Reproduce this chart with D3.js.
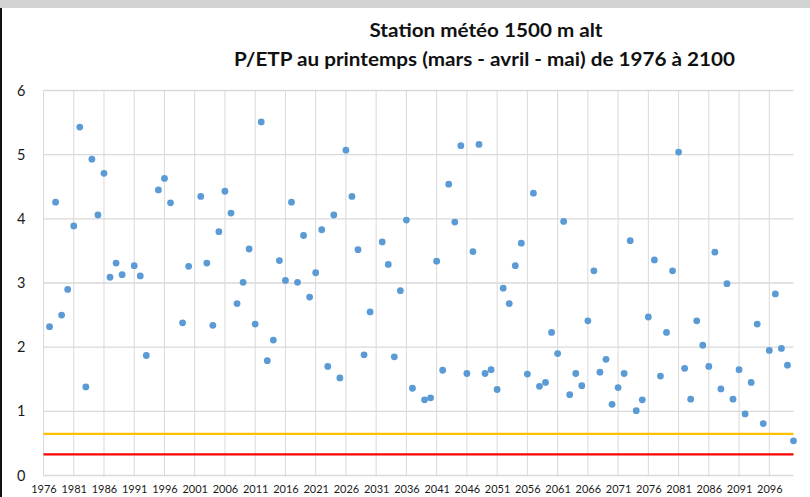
<!DOCTYPE html>
<html><head><meta charset="utf-8">
<script src="https://cdn.jsdelivr.net/npm/d3@7"></script>
<style>
html,body{margin:0;padding:0;background:#fff;}
svg{display:block;}
</style>
</head><body>
<svg id="c" width="810" height="497"></svg>
<script>
// ---- data ----
const titleLines = ["Station météo 1500 m alt", "P/ETP au printemps (mars - avril - mai) de 1976 à 2100"];
const years = d3.range(1976, 2101);
const values = [
  null, 2.32, 4.26, 2.50, 2.90, 3.89, 5.43, 1.38, 4.93, 4.06,
  4.71, 3.09, 3.31, 3.13, null, 3.27, 3.11, 1.87, null, 4.45,
  4.63, 4.25, null, 2.38, 3.26, null, 4.35, 3.31, 2.34, 3.80,
  4.43, 4.09, 2.68, 3.01, 3.53, 2.36, 5.51, 1.79, 2.11, 3.35,
  3.04, 4.26, 3.01, 3.74, 2.78, 3.16, 3.83, 1.70, 4.06, 1.52,
  5.07, 4.35, 3.52, 1.88, 2.55, null, 3.64, 3.29, 1.85, 2.88,
  3.98, 1.36, null, 1.18, 1.21, 3.34, 1.64, 4.54, 3.95, 5.14,
  1.59, 3.49, 5.16, 1.59, 1.65, 1.34, 2.92, 2.68, 3.27, 3.62,
  1.58, 4.40, 1.39, 1.45, 2.23, 1.90, 3.96, 1.26, 1.59, 1.40,
  2.41, 3.19, 1.61, 1.81, 1.11, 1.37, 1.59, 3.66, 1.01, 1.18,
  2.47, 3.36, 1.55, 2.23, 3.19, 5.04, 1.67, 1.19, 2.41, 2.03,
  1.70, 3.48, 1.35, 2.99, 1.19, 1.65, 0.96, 1.45, 2.36, 0.81,
  1.95, 2.83, 1.98, 1.72, 0.54
];
const xTickYears = [1976,1981,1986,1991,1996,2001,2006,2011,2016,2021,2026,2031,2036,2041,2046,2051,2056,2061,2066,2071,2076,2081,2086,2091,2096];
const yTicks = [0,1,2,3,4,5,6];
const thresholdOrange = 0.65;
const thresholdRed = 0.33;

// ---- layout ----
const svg = d3.select("#c");
const L = 43.5, R = 793.5, T = 90.5, B = 475.5;
const x = d3.scaleLinear().domain([1976, 2100]).range([L, R]);
const y = d3.scaleLinear().domain([0, 6]).range([B, T]);

// frame bits
svg.append("rect").attr("x",0).attr("y",0).attr("width",810).attr("height",8).attr("fill","#d2d2d2");
svg.append("line").attr("x1",1).attr("x2",1).attr("y1",8).attr("y2",497).attr("stroke","#111").attr("stroke-width",2);

// title
const title = svg.append("g").attr("font-family","Lato, 'Open Sans', sans-serif").attr("font-weight","bold").attr("fill","#111").attr("font-size",18.5).attr("text-anchor","middle");
title.append("text").attr("x",486).attr("y",37).attr("textLength",233).attr("lengthAdjust","spacingAndGlyphs").text(titleLines[0]);
title.append("text").attr("x",484.5).attr("y",66).attr("textLength",501).attr("lengthAdjust","spacingAndGlyphs").text(titleLines[1]);

// gridlines
const grid = svg.append("g");
grid.selectAll("line.h").data(yTicks).join("line")
  .attr("x1",L).attr("x2",R).attr("y1",d=>y(d)).attr("y2",d=>y(d))
  .attr("stroke","#d9d9d9").attr("stroke-width",1.3);
grid.selectAll("line.v").data(xTickYears).join("line")
  .attr("x1",d=>x(d)).attr("x2",d=>x(d)).attr("y1",T).attr("y2",B+1)
  .attr("stroke","#d9d9d9").attr("stroke-width",1);

// axes
const yAxis = svg.append("g").attr("transform",`translate(${L},0)`)
  .call(d3.axisLeft(y).tickValues(yTicks).tickFormat(d3.format("d")).tickSize(0).tickPadding(18));
yAxis.select(".domain").remove();
yAxis.selectAll("text").attr("font-family","Lato, sans-serif").attr("font-size",14.5).attr("fill","#1a1a1a");

const xAxis = svg.append("g").attr("transform",`translate(0,${B})`)
  .call(d3.axisBottom(x).tickValues(xTickYears).tickFormat(d3.format("d")).tickSize(0).tickPadding(10));
xAxis.select(".domain").remove();
xAxis.selectAll("text").attr("font-family","Lato, sans-serif").attr("font-size",11).attr("fill","#1a1a1a");

// threshold lines
svg.append("line").attr("x1",L).attr("x2",R).attr("y1",y(thresholdOrange)).attr("y2",y(thresholdOrange))
  .attr("stroke","#ffc000").attr("stroke-width",2.2);
svg.append("line").attr("x1",L).attr("x2",R).attr("y1",y(thresholdRed)).attr("y2",y(thresholdRed))
  .attr("stroke","#ff0000").attr("stroke-width",2.2);

// points
const pts = years.map((yr,i)=>({year:yr, v:values[i]})).filter(d=>d.v!=null);
svg.append("g").selectAll("circle").data(pts).join("circle")
  .attr("cx",d=>x(d.year)).attr("cy",d=>y(d.v)).attr("r",3.4)
  .attr("fill","#5b9bd5");
</script>
</body></html>
